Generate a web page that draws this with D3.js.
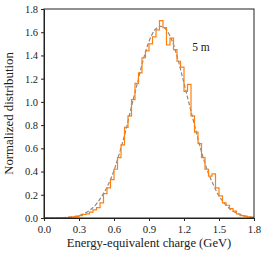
<!DOCTYPE html>
<html>
<head>
<meta charset="utf-8">
<script src="https://cdn.jsdelivr.net/npm/d3@7"></script>
<style>
  body { margin: 0; background: #fff; }
  text { font-family: "Liberation Serif", serif; fill: #222; }
</style>
</head>
<body>
<div class="chartContainer"></div>
<script>
const width = 266,
  height = 253;
const margin = { top: 9, right: 12, bottom: 35, left: 44 };

// histogram: left bin edges (GeV) and normalized counts
const binStart = d3.range(0, 60).map((i) => +(i * 0.03).toFixed(2));
const binWidth = 0.03;
const histValues = [
  0.002, 0.002, 0.002, 0.002, 0.002, 0.003, 0.004, 0.008, 0.01, 0.012,
  0.02, 0.03, 0.035, 0.05, 0.07, 0.09, 0.13, 0.21, 0.26, 0.33,
  0.42, 0.52, 0.63, 0.78, 0.88, 1.02, 1.16, 1.25, 1.38, 1.44,
  1.5, 1.56, 1.62, 1.7, 1.64, 1.49, 1.55, 1.45, 1.35, 1.3,
  1.09, 1.15, 0.88, 0.74, 0.64, 0.52, 0.42, 0.36, 0.38, 0.26,
  0.19, 0.13, 0.11, 0.08, 0.06, 0.035, 0.02, 0.015, 0.01, 0.006
];

// dashed fit curve
const fitX = [0, 0.1, 0.2, 0.25, 0.3, 0.35, 0.4, 0.45, 0.5, 0.55, 0.6, 0.65, 0.7, 0.75,
  0.8, 0.85, 0.9, 0.95, 1.0, 1.05, 1.1, 1.15, 1.2, 1.25, 1.3, 1.35, 1.4, 1.45,
  1.5, 1.55, 1.6, 1.65, 1.7, 1.75, 1.8];
const fitY = [0.0003, 0.001, 0.006, 0.012, 0.022, 0.042, 0.073, 0.122, 0.195, 0.286, 0.41, 0.57, 0.75, 0.96,
  1.16, 1.36, 1.52, 1.62, 1.65, 1.62, 1.52, 1.36, 1.16, 0.96, 0.76, 0.57, 0.41, 0.29,
  0.19, 0.122, 0.074, 0.043, 0.024, 0.013, 0.006];

const xTicks = [0, 0.3, 0.6, 0.9, 1.2, 1.5, 1.8];
const yTicks = [0, 0.2, 0.4, 0.6, 0.8, 1.0, 1.2, 1.4, 1.6, 1.8];

const svg = d3
  .select(".chartContainer")
  .append("svg")
  .attr("width", width)
  .attr("height", height);

const xScale = d3.scaleLinear().domain([0, 1.8]).range([margin.left, width - margin.right]);
const yScale = d3.scaleLinear().domain([0, 1.8]).range([height - margin.bottom, margin.top]);

// fit curve (dashed gray)
const line = d3
  .line()
  .x((d, i) => xScale(fitX[i]))
  .y((d) => yScale(d))
  .curve(d3.curveMonotoneX);

svg
  .append("path")
  .attr("d", line(fitY))
  .attr("fill", "none")
  .attr("stroke", "#8a8a8a")
  .attr("stroke-width", 1.2)
  .attr("stroke-dasharray", "4,2");

// step histogram (orange)
const steps = [];
histValues.forEach((v, i) => {
  steps.push([binStart[i], v]);
  steps.push([binStart[i] + binWidth, v]);
});
const stepLine = d3
  .line()
  .x((d) => xScale(d[0]))
  .y((d) => yScale(d[1]));

svg
  .append("path")
  .attr("d", stepLine(steps))
  .attr("fill", "none")
  .attr("stroke", "#ff7f0e")
  .attr("stroke-width", 1.2);

// axes
const xAxis = d3.axisBottom(xScale).tickValues(xTicks).tickFormat(d3.format(".1f")).tickSize(3).tickSizeOuter(0);
const yAxis = d3.axisLeft(yScale).tickValues(yTicks).tickFormat(d3.format(".1f")).tickSize(3).tickSizeOuter(0);

svg
  .append("g")
  .attr("transform", `translate(0,${height - margin.bottom})`)
  .call(xAxis)
  .call((g) => g.selectAll("text").attr("font-size", 10.8).attr("font-family", "Liberation Serif").attr("dy", "0.85em"));

svg
  .append("g")
  .attr("transform", `translate(${margin.left},0)`)
  .call(yAxis)
  .call((g) => g.selectAll("text").attr("font-size", 10.5).attr("font-family", "Liberation Serif"));

svg.selectAll(".domain, .tick line").attr("stroke", "#222");

// frame
svg
  .append("rect")
  .attr("x", margin.left)
  .attr("y", margin.top)
  .attr("width", width - margin.left - margin.right)
  .attr("height", height - margin.top - margin.bottom)
  .attr("fill", "none")
  .attr("stroke", "#222")
  .attr("stroke-width", 1);

// labels
svg
  .append("text")
  .attr("x", (margin.left + width - margin.right) / 2)
  .attr("y", height - 6)
  .attr("text-anchor", "middle")
  .attr("font-size", 12.6)
  .text("Energy-equivalent charge (GeV)");

svg
  .append("text")
  .attr("transform", `translate(13,${(margin.top + height - margin.bottom) / 2}) rotate(-90)`)
  .attr("text-anchor", "middle")
  .attr("font-size", 12.8)
  .text("Normalized distribution");

svg
  .append("text")
  .attr("x", xScale(1.27))
  .attr("y", yScale(1.44))
  .attr("font-size", 11.5)
  .text("5 m");
</script>
</body>
</html>
